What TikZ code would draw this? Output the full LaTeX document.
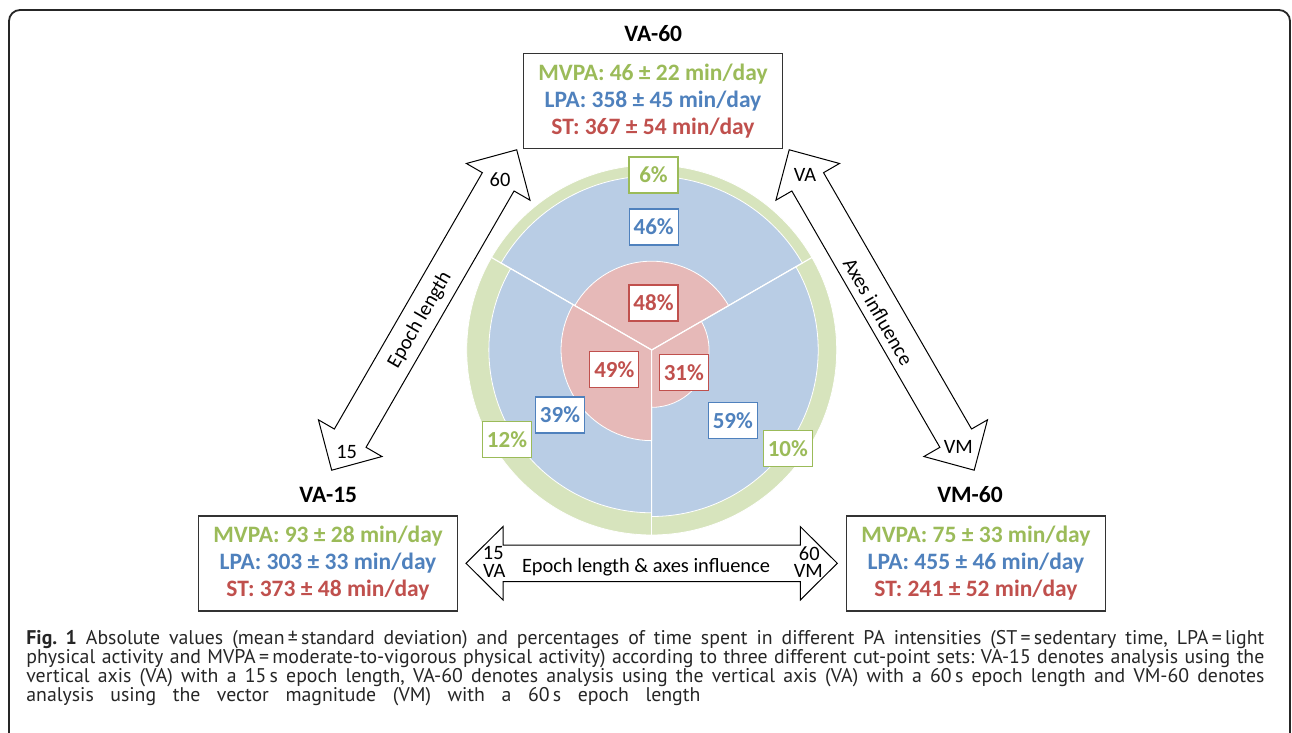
\documentclass[tikz,border=0pt]{standalone}
\usepackage{fontspec}
\setmainfont{Carlito}
\newfontfamily\capfont{PT Sans}
\usetikzlibrary{calc}
\definecolor{ringG}{HTML}{D7E4BD}
\definecolor{ringB}{HTML}{B9CDE5}
\definecolor{ringR}{HTML}{E6B9B8}
\definecolor{txtG}{HTML}{9BBB59}
\definecolor{txtB}{HTML}{4F81BD}
\definecolor{txtR}{HTML}{C0504D}
\newcommand\blockarr[3]{%
  \begin{scope}[shift={#1}, rotate=#2]
  \pgfmathsetmacro\hl{#3/2}
  \draw[blockarrow] (-\hl,0) -- ({-\hl+37},36.7) -- ({-\hl+37},18.3) -- ({\hl-37},18.3) -- ({\hl-37},36.7) -- (\hl,0)
     -- ({\hl-37},-36.7) -- ({\hl-37},-18.3) -- ({-\hl+37},-18.3) -- ({-\hl+37},-36.7) -- cycle;
  \end{scope}}
\frenchspacing
\begin{document}
\begin{tikzpicture}[x=0.5pt,y=-0.5pt,
  pct/.style={draw=#1, fill=white, text=#1, line width=0.65pt, font=\fontsize{11.5}{13}\selectfont\bfseries, minimum width=24.5pt, minimum height=18pt, inner sep=0pt},
  valbox/.style={draw=black!80, line width=0.6pt, fill=white, minimum width=129.7pt, minimum height=47.5pt, align=center, inner sep=0pt, font=\fontsize{11.75}{13.5}\selectfont\bfseries},
  title/.style={font=\fontsize{11.75}{13}\selectfont\bfseries, inner sep=0pt},
  arrtxt/.style={font=\fontsize{10.2}{11}\selectfont, inner sep=0pt},
  blockarrow/.style={draw=black, fill=white, line width=0.5pt, line join=miter},
  wedge/.style={draw=white, line width=0.4pt},
  capline/.style={anchor=base west, inner sep=0pt, font=\capfont\fontsize{9.9}{9.5}\selectfont\frenchspacing, text=black!85}
]
\useasboundingbox (0,0) rectangle (1292,733);
% frame
\begin{scope}
\clip (0,0) rectangle (1292,733);
\draw[black!85, line width=0.9pt, rounded corners=5.5pt] (9,10) rectangle (1290,790);
\end{scope}

% chart
\coordinate (C) at (651.7,350);
\path[wedge, fill=ringG] (C) circle[radius=92.5pt];
\path[wedge, fill=ringB] (C) -- ++(30:86.95pt) arc[start angle=30, end angle=150, radius=86.95pt] -- cycle;
\path[wedge, fill=ringB] (C) -- ++(150:81.4pt) arc[start angle=150, end angle=270, radius=81.4pt] -- cycle;
\path[wedge, fill=ringB] (C) -- ++(-90:83.25pt) arc[start angle=-90, end angle=30, radius=83.25pt] -- cycle;
\path[wedge, fill=ringR] (C) -- ++(30:44.4pt) arc[start angle=30, end angle=150, radius=44.4pt] -- cycle;
\path[wedge, fill=ringR] (C) -- ++(150:45.325pt) arc[start angle=150, end angle=270, radius=45.325pt] -- cycle;
\path[wedge, fill=ringR] (C) -- ++(-90:28.675pt) arc[start angle=-90, end angle=30, radius=28.675pt] -- cycle;
\draw[white, line width=0.6pt] (C) -- ++(30:92.5pt);
\draw[white, line width=0.6pt] (C) -- ++(150:92.5pt);
\draw[white, line width=0.6pt] (C) -- ++(270:92.5pt);

% percentage labels
\node[pct=txtG] (p6) at (653.5,175) {6\%};
\node[pct=txtB] (p46) at (653.7,227) {46\%};
\node[pct=txtR] (p48) at (653.5,303) {48\%};
\node[pct=txtR] (p49) at (614.3,369.7) {49\%};
\node[pct=txtR] (p31) at (683.8,372.8) {31\%};
\node[pct=txtB] (p39) at (560,415) {39\%};
\node[pct=txtB] (p59) at (732.8,420.3) {59\%};
\node[pct=txtG] (p12) at (507,439.5) {12\%};
\node[pct=txtG] (p10) at (787.8,448.3) {10\%};

% block arrows
\blockarr{(424.2,310)}{60}{370}
\blockarr{(881.7,310)}{-60}{370}
\blockarr{(651.65,563.3)}{0}{371.3}
\node[arrtxt, rotate=60] (epoch) at (420,320) {Epoch length};
\node[arrtxt] (e60) at (500,180) {60};
\node[arrtxt] (e15) at (346.7,451.7) {15};
\node[arrtxt, rotate=-60] (axes) at (878.3,311.7) {Axes influence};
\node[arrtxt] (aVA) at (805,175) {VA};
\node[arrtxt] (aVM) at (958.3,446.7) {VM};
\node[arrtxt] (both) at (646,566.7) {Epoch length \& axes influence};
\node[arrtxt] (b15) at (493.3,553.3) {15};
\node[arrtxt] (bVA) at (494.3,571) {VA};
\node[arrtxt] (b60) at (809.3,553.3) {60};
\node[arrtxt] (bVM) at (808.3,571) {VM};

% titles and value boxes
\node[title] (t60) at (653.3,34) {VA-60};
\node[title] (t15) at (328.3,495) {VA-15};
\node[title] (tvm) at (970,495) {VM-60};
\node[valbox] (box60) at (653,100.8) {\textcolor{txtG}{MVPA: 46 ± 22 min/day}\\\textcolor{txtB}{LPA: 358 ± 45 min/day}\\\textcolor{txtR}{ST: 367 ± 54 min/day}};
\node[valbox] (box15) at (328,563.5) {\textcolor{txtG}{MVPA: 93 ± 28 min/day}\\\textcolor{txtB}{LPA: 303 ± 33 min/day}\\\textcolor{txtR}{ST: 373 ± 48 min/day}};
\node[valbox] (boxvm) at (975.9,563.5) {\textcolor{txtG}{MVPA: 75 ± 33 min/day}\\\textcolor{txtB}{LPA: 455 ± 46 min/day}\\\textcolor{txtR}{ST: 241 ± 52 min/day}};

% caption
\node[capline] (cap1) at (26,644) {\hbox to 619pt{\textbf{Fig. 1} Absolute values (mean\,±\,standard deviation) and percentages of time spent in different PA intensities (ST\,=\,sedentary time, LPA\,=\,light}};
\node[capline] (cap2) at (26,663.3) {\hbox to 619pt{physical activity and MVPA\,=\,moderate-to-vigorous physical activity) according to three different cut-point sets: VA-15 denotes analysis using the}};
\node[capline] (cap3) at (26,682.7) {\hbox to 619pt{vertical axis (VA) with a 15\,s epoch length, VA-60 denotes analysis using the vertical axis (VA) with a 60\,s epoch length and VM-60 denotes}};
\node[capline] (cap4) at (26,701.7) {\hbox to 337pt{analysis using the vector magnitude (VM) with a 60\,s epoch length}};
\end{tikzpicture}
\end{document}
